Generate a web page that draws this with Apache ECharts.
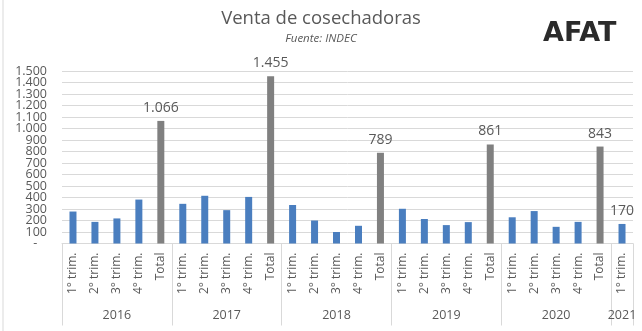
<!DOCTYPE html>
<html>
<head>
<meta charset="utf-8">
<title>Venta de cosechadoras</title>
<script src="https://cdn.jsdelivr.net/npm/echarts@6/dist/echarts.min.js"></script>
<style>
  html, body { margin: 0; padding: 0; background: #ffffff; }
  #chart { width: 642px; height: 331px; }
</style>
</head>
<body>
<div id="chart"></div>
<script>
// Harvester sales per quarter, with the yearly total after each year's quarters.
const years = ['2016', '2017', '2018', '2019', '2020', '2021'];
const periodLabels = ['1° trim.', '2° trim.', '3° trim.', '4° trim.', 'Total'];
const ventas2016 = [278, 188, 218, 382, 1066];
const ventas2017 = [345, 415, 290, 405, 1455];
const ventas2018 = [335, 200, 100, 154, 789];
const ventas2019 = [302, 213, 160, 186, 861];
const ventas2020 = [228, 282, 145, 188, 843];
const ventas2021 = [170];
const ventasPorAnio = [ventas2016, ventas2017, ventas2018, ventas2019, ventas2020, ventas2021];

// Value axis range
const yMin = 0;
const yMax = 1500;
const yStep = 100;

const BLUE = '#4a7ebf';
const GREY = '#808080';
const TEXT = '#595959';
const LINE = '#d9d9d9';
const FONT = '"Open Sans", "Noto Sans", sans-serif';

// Flatten the year groups into one category axis
const categories = [];
const yearOfCategory = [];
const barData = [];
const groupStarts = [];
const groupCenters = [];
ventasPorAnio.forEach(function (vals, yi) {
  groupStarts.push(categories.length);
  groupCenters.push(categories.length + Math.floor((vals.length - 1) / 2));
  vals.forEach(function (v, i) {
    const label = periodLabels[i];
    const isTotal = label === 'Total';
    const labelled = isTotal || vals.length === 1;
    categories.push(label);
    yearOfCategory.push(years[yi]);
    barData.push({
      value: v,
      itemStyle: { color: isTotal ? GREY : BLUE },
      label: { show: labelled }
    });
  });
});

function fmtMiles(v) {
  return String(v).replace(/\B(?=(\d{3})+(?!\d))/g, '.');
}

// The tick labels sit closer than their own height, so they are split over
// two stacked left axes (even / odd hundreds) to keep every one of them.
function tickText(v) {
  return v === 0 ? '-   ' : fmtMiles(v);
}
function yAxisFor(parity, withGrid) {
  return {
    type: 'value',
    position: 'left',
    offset: 0,
    min: yMin,
    max: yMax,
    interval: yStep,
    axisLine: { show: false },
    axisTick: { show: false },
    splitLine: { show: withGrid, lineStyle: { color: LINE, width: 1 } },
    axisLabel: {
      margin: 15,
      showMinLabel: parity === 0,
      showMaxLabel: parity === 1,
      color: TEXT,
      fontFamily: FONT,
      fontSize: 12.5,
      formatter: function (v) {
        return (Math.round(v / yStep) % 2 === parity) ? tickText(v) : '';
      }
    }
  };
}

const chart = echarts.init(document.getElementById('chart'), null, { renderer: 'canvas' });

chart.setOption({
  animation: false,
  backgroundColor: '#ffffff',
  textStyle: { fontFamily: FONT },
  title: [
    {
      text: 'Venta de cosechadoras',
      left: 'center',
      top: 7,
      padding: 0,
      textStyle: { fontFamily: FONT, fontSize: 18.5, fontWeight: 'normal', color: TEXT, lineHeight: 24 }
    },
    {
      text: 'Fuente: INDEC',
      left: 'center',
      top: 32,
      padding: 0,
      textStyle: { fontFamily: FONT, fontSize: 11.5, fontStyle: 'italic', fontWeight: 'normal', color: TEXT, lineHeight: 14 }
    },
    {
      text: 'AFAT',
      left: 543,
      top: 20,
      padding: 0,
      textStyle: { fontFamily: '"DejaVu Sans", sans-serif', fontSize: 27, fontWeight: 'bold', color: '#2b2b2b', lineHeight: 28 }
    }
  ],
  graphic: [
    {
      type: 'line',
      shape: { x1: 3, y1: 0, x2: 3, y2: 331 },
      style: { stroke: LINE, lineWidth: 1 }
    }
  ],
  grid: { left: 62, right: 9, top: 71, bottom: 87.5, containLabel: false },
  xAxis: [
    {
      type: 'category',
      data: categories,
      boundaryGap: true,
      axisLine: { show: true, lineStyle: { color: LINE, width: 1 } },
      axisTick: {
        show: true,
        length: 82,
        lineStyle: { color: LINE, width: 1 },
        interval: function (index) { return groupStarts.indexOf(index) !== -1; }
      },
      axisLabel: {
        interval: 0,
        rotate: 90,
        margin: 9,
        color: TEXT,
        fontFamily: FONT,
        fontSize: 12
      },
      splitLine: { show: false }
    },
    {
      type: 'category',
      data: yearOfCategory,
      position: 'bottom',
      offset: 0,
      boundaryGap: true,
      axisLine: { show: false },
      axisTick: { show: false },
      splitLine: { show: false },
      axisLabel: {
        interval: function (index) { return groupCenters.indexOf(index) !== -1; },
        margin: 65,
        color: TEXT,
        fontFamily: FONT,
        fontSize: 12.5
      }
    }
  ],
  yAxis: [yAxisFor(0, true), yAxisFor(1, false)],
  series: [
    {
      type: 'bar',
      xAxisIndex: 0,
      yAxisIndex: 0,
      data: barData,
      barWidth: 7,
      label: {
        position: 'top',
        distance: 6,
        color: TEXT,
        fontFamily: FONT,
        fontSize: 14,
        formatter: function (p) { return fmtMiles(p.value); }
      }
    }
  ]
});
</script>
</body>
</html>
